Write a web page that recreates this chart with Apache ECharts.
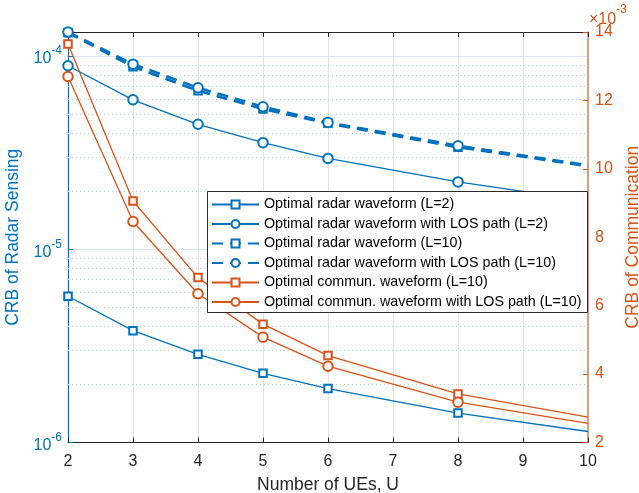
<!DOCTYPE html>
<html><head><meta charset="utf-8">
<script src="https://cdn.jsdelivr.net/npm/echarts@6.0.0/dist/echarts.min.js"></script>
<style>html,body{margin:0;padding:0;background:#fff}#c{width:639px;height:493px}</style>
</head><body><div id="c"></div>
<script>
// ---- data ----
const xValues = [2, 3, 4, 5, 6, 8, 10];
const markerX = [2, 3, 4, 5, 6, 8];   // x positions drawn with a marker
const radarL2 = [5.71e-6, 3.79e-6, 2.86e-6, 2.28e-6, 1.90e-6, 1.42e-6, 1.14e-6];
const radarLosL2 = [8.9e-5, 5.93e-5, 4.43e-5, 3.56e-5, 2.95e-5, 2.23e-5, 1.78e-5];
const radarL10 = [1.32e-4, 8.79e-5, 6.61e-5, 5.31e-5, 4.48e-5, 3.37e-5, 2.69e-5];
const radarLosL10 = [1.33e-4, 9.07e-5, 6.85e-5, 5.46e-5, 4.53e-5, 3.43e-5, 2.72e-5];
const commL10 = [13.65, 9.06, 6.82, 5.46, 4.54, 3.42, 2.74];      // x 1e-3
const commLosL10 = [12.70, 8.46, 6.35, 5.08, 4.23, 3.18, 2.56];   // x 1e-3
const seriesNames = [
  'Optimal radar waveform (L=2)',
  'Optimal radar waveform with LOS path (L=2)',
  'Optimal radar waveform (L=10)',
  'Optimal radar waveform with LOS path (L=10)',
  'Optimal commun. waveform (L=10)',
  'Optimal commun. waveform with LOS path (L=10)'
];
const xMin = 2, xMax = 10;
const rightMin = 2, rightMax = 14;
const leftMin = 1e-6, leftMax = 1.33e-4;
const minorGridValues = [];
for (let e = -6; e <= -4; e++) for (let k = 2; k <= 9; k++) {
  const v = k * Math.pow(10, e);
  if (v < leftMax) minorGridValues.push(v);
}

const BLUE = '#0072BD', ORANGE = '#D95319', INK = '#262626';
const FONT = 'Liberation Sans, Arial, Helvetica, sans-serif';

function mk(name, vals, yIdx, color, symbol, dashed) {
  return {
    name, type: 'line', xAxisIndex: 0, yAxisIndex: yIdx,
    data: xValues.map((x, i) => (markerX.indexOf(x) >= 0
      ? { value: [x, vals[i]] }
      : { value: [x, vals[i]], symbol: 'none' })),
    symbol, symbolSize: symbol === 'emptyCircle' ? 9.5 : 7.5,
    showSymbol: true, clip: false,
    lineStyle: { color, width: dashed ? 2.6 : 1.3, type: dashed ? [11, 7] : 'solid' },
    itemStyle: { color, borderColor: color, borderWidth: dashed ? 1.6 : 1.1 },
    emphasis: { disabled: true },
    z: 3
  };
}

const minorGrid = {
  name: 'minorGrid', type: 'custom', xAxisIndex: 0, yAxisIndex: 0,
  silent: true, z: 1, clip: false,
  data: minorGridValues.map(v => [xMin, v]),
  renderItem: function (params, api) {
    const v = api.value(1);
    const p1 = api.coord([xMin, v]);
    const p2 = api.coord([xMax, v]);
    const y = Math.round(p1[1]) + 0.5;
    return {
      type: 'line',
      shape: { x1: p1[0], y1: y, x2: p2[0], y2: y },
      style: { stroke: '#b3d0e8', lineWidth: 1, lineDash: [1, 3] }
    };
  }
};

const chart = echarts.init(document.getElementById('c'), null, { renderer: 'canvas' });
chart.setOption({
  animation: false,
  backgroundColor: '#fff',
  textStyle: { fontFamily: FONT },
  grid: { left: 68, right: 51, top: 32, bottom: 50.5, outerBoundsMode: 'none', containLabel: false },
  legend: {
    data: seriesNames,
    orient: 'vertical', left: 206, top: 191,
    itemWidth: 47, itemHeight: 10, itemGap: 4.5,
    padding: [6, 6, 5, 5],
    backgroundColor: 'transparent', borderWidth: 0,
    textStyle: { fontSize: 14.3, color: '#000', fontFamily: FONT, lineHeight: 15 },
    selectedMode: false, z: 10
  },
  xAxis: [{
    type: 'value', min: xMin, max: xMax, interval: 1, position: 'bottom',
    name: 'Number of UEs, U', nameLocation: 'middle', nameGap: 34,
    nameTextStyle: { fontSize: 17.5, color: INK, fontFamily: FONT },
    axisLine: { lineStyle: { color: INK, width: 1 } },
    axisTick: { inside: true, length: 5, lineStyle: { color: INK } },
    axisLabel: { fontSize: 16, color: INK, margin: 11, fontFamily: FONT },
    splitLine: { show: true, lineStyle: { color: '#e3e3e3', width: 1 } }
  }, {
    type: 'value', min: xMin, max: xMax, interval: 1, position: 'top',
    axisLine: { lineStyle: { color: INK, width: 1 } },
    axisTick: { inside: true, length: 5, lineStyle: { color: INK } },
    axisLabel: { show: false }, splitLine: { show: false }
  }],
  yAxis: [{
    type: 'log', logBase: 10, min: leftMin, max: leftMax, position: 'left',
    name: 'CRB of Radar Sensing', nameLocation: 'middle', nameGap: 41,
    nameTextStyle: { fontSize: 17.5, color: BLUE, fontFamily: FONT },
    axisLine: { show: true, lineStyle: { color: BLUE, width: 1.2 } },
    axisTick: { inside: true, length: 5, lineStyle: { color: BLUE } },
    axisLabel: {
      margin: 6, showMaxLabel: false,
      formatter: function (v) {
        const e = Math.log10(v);
        if (Math.abs(e - Math.round(e)) > 1e-6) return '';
        return '{b|10}{s|' + Math.round(e) + '}';
      },
      rich: {
        b: { fontSize: 16, color: BLUE, fontFamily: FONT, lineHeight: 22, verticalAlign: 'bottom' },
        s: { fontSize: 12, color: BLUE, fontFamily: FONT, lineHeight: 22, verticalAlign: 'top' }
      }
    },
    splitLine: { show: true, lineStyle: { color: '#dde6ee', width: 1 } }
  }, {
    type: 'value', min: rightMin, max: rightMax, interval: 2, position: 'right',
    name: 'CRB of Communication', nameLocation: 'middle', nameGap: 35,
    nameTextStyle: { fontSize: 17.5, color: ORANGE, fontFamily: FONT },
    axisLine: { show: true, lineStyle: { color: '#E2875F', width: 1.6 } },
    axisTick: { inside: true, length: 5, lineStyle: { color: ORANGE } },
    axisLabel: { fontSize: 16, color: ORANGE, margin: 7, fontFamily: FONT },
    splitLine: { show: false }
  }],
  graphic: [{
    type: 'text', left: 589, top: 4, z: 20,
    style: {
      text: '{a|×10}{s|-3}',
      rich: {
        a: { fontSize: 16, fill: ORANGE, fontFamily: FONT, lineHeight: 24, verticalAlign: 'bottom' },
        s: { fontSize: 12, fill: ORANGE, fontFamily: FONT, lineHeight: 24, verticalAlign: 'top' }
      }
    }
  }, {
    type: 'rect', z: 9,
    shape: { x: 207.5, y: 191.5, width: 380, height: 121 },
    style: { fill: '#fff', stroke: '#2b2b2b', lineWidth: 1 }
  }],
  series: [
    minorGrid,
    mk(seriesNames[0], radarL2, 0, BLUE, 'emptyRect', false),
    mk(seriesNames[1], radarLosL2, 0, BLUE, 'emptyCircle', false),
    mk(seriesNames[2], radarL10, 0, BLUE, 'emptyRect', true),
    mk(seriesNames[3], radarLosL10, 0, BLUE, 'emptyCircle', true),
    mk(seriesNames[4], commL10, 1, ORANGE, 'emptyRect', false),
    mk(seriesNames[5], commLosL10, 1, ORANGE, 'emptyCircle', false)
  ]
});
</script></body></html>
